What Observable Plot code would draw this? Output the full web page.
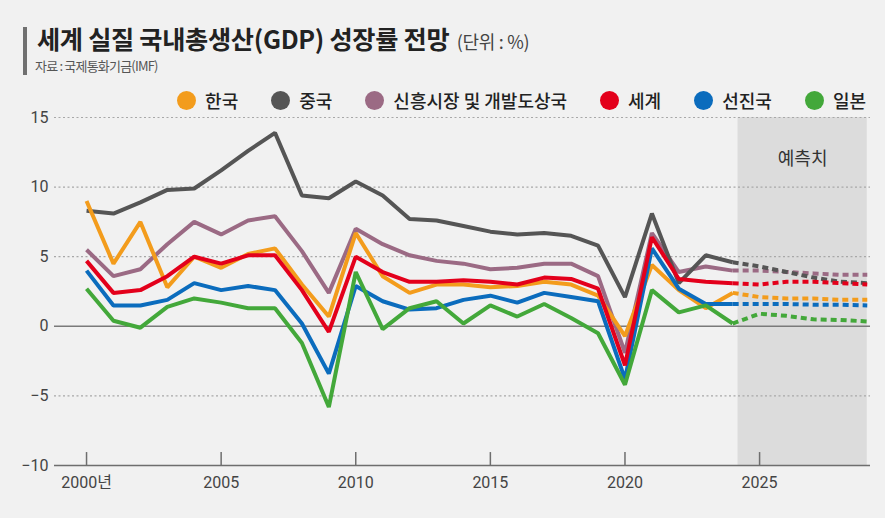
<!DOCTYPE html>
<html>
<head>
<meta charset="utf-8">
<script src="https://cdn.jsdelivr.net/npm/d3@7"></script>
<script src="https://cdn.jsdelivr.net/npm/@observablehq/plot@0.6"></script>
<style>
  body { margin: 0; background: #f1f1f1; font-family: "Noto Sans CJK KR", "Noto Sans", sans-serif; }
  #wrap { position: relative; width: 885px; height: 518px; overflow: hidden; background: #f1f1f1; }
  #bar { position: absolute; left: 23px; top: 27px; width: 4px; height: 48px; background: #707070; }
  #title { position: absolute; left: 37px; top: 21px; font-size: 25.2px; font-weight: 700; color: #222; white-space: nowrap; line-height: 34px; letter-spacing: -0.3px; }
  #title span { font-size: 18px; font-weight: 400; color: #444; letter-spacing: -0.3px; margin-left: 2px; }
  #sub { position: absolute; left: 35px; top: 57px; font-size: 13px; color: #555; line-height: 18px; letter-spacing: -0.8px; white-space: nowrap; }
  #legend { position: absolute; right: 19px; top: 88px; display: flex; align-items: center; height: 24px; font-size: 18px; color: #222; font-weight: 500; white-space: nowrap; }
  .item { display: flex; align-items: center; margin-left: 33px; }
  .dot { width: 19px; height: 19px; border-radius: 50%; margin-right: 9px; }
  #chart { position: absolute; left: 0; top: 90px; }
</style>
</head>
<body>
<div id="wrap">
  <div id="bar"></div>
  <div id="title">세계 실질 국내총생산(GDP) 성장률 전망 <span>(단위 : %)</span></div>
  <div id="sub">자료 : 국제통화기금(IMF)</div>
  <div id="legend"></div>
  <div id="chart"></div>
</div>
<script>
// ---- data ----
const years = [2000,2001,2002,2003,2004,2005,2006,2007,2008,2009,2010,2011,2012,2013,2014,2015,2016,2017,2018,2019,2020,2021,2022,2023,2024,2025,2026,2027,2028,2029];
const lastActualYear = 2024;
const legendOrder = ["한국", "중국", "신흥시장 및 개발도상국", "세계", "선진국", "일본"];
const seriesColors = ["#f39c1c", "#555555", "#9b6a84", "#e3001b", "#0b6cbd", "#43a83a"];

const korea    = [9.0, 4.5, 7.5, 2.8, 5.0, 4.2, 5.2, 5.6, 3.0, 0.7, 6.7, 3.6, 2.4, 3.0, 3.0, 2.8, 2.9, 3.2, 3.0, 2.2, -0.7, 4.4, 2.6, 1.3, 2.4, 2.1, 2.0, 2.0, 1.9, 1.9];
const china    = [8.3, 8.1, 8.9, 9.8, 9.9, 11.2, 12.6, 13.9, 9.4, 9.2, 10.4, 9.4, 7.7, 7.6, 7.2, 6.8, 6.6, 6.7, 6.5, 5.8, 2.1, 8.1, 3.1, 5.1, 4.6, 4.3, 3.9, 3.5, 3.2, 3.1];
const emerging = [5.5, 3.6, 4.1, 5.9, 7.5, 6.6, 7.6, 7.9, 5.4, 2.4, 7.0, 5.9, 5.1, 4.7, 4.5, 4.1, 4.2, 4.5, 4.5, 3.6, -1.9, 6.7, 3.9, 4.3, 4.0, 4.0, 3.9, 3.8, 3.7, 3.7];
const world    = [4.7, 2.4, 2.6, 3.6, 5.0, 4.5, 5.1, 5.1, 2.6, -0.4, 5.0, 3.9, 3.2, 3.2, 3.3, 3.2, 3.0, 3.5, 3.4, 2.7, -2.8, 6.4, 3.4, 3.2, 3.1, 3.0, 3.2, 3.2, 3.1, 3.0];
const advanced = [4.0, 1.5, 1.5, 1.9, 3.1, 2.6, 2.9, 2.6, 0.2, -3.4, 2.9, 1.8, 1.2, 1.3, 1.9, 2.2, 1.7, 2.4, 2.1, 1.8, -3.8, 5.6, 2.7, 1.6, 1.6, 1.6, 1.6, 1.55, 1.55, 1.5];
const japan    = [2.7, 0.4, -0.1, 1.4, 2.0, 1.7, 1.3, 1.3, -1.2, -5.8, 3.9, -0.2, 1.3, 1.8, 0.2, 1.5, 0.7, 1.6, 0.6, -0.5, -4.2, 2.6, 1.0, 1.5, 0.2, 0.9, 0.75, 0.5, 0.45, 0.35];

const xTicks = [2000, 2005, 2010, 2015, 2020, 2025];
const xTickLabels = ["2000년", "2005", "2010", "2015", "2020", "2025"];
const yTicks = [15, 10, 5, 0, -5, -10];
const yDotted = [15, 10, 5, -5];
const forecastBand = [2024.2, 2029];
const forecastLabel = ["예측치"];
const forecastLabelPos = [2026.6, 12];

// draw order (bottom -> top)
const drawOrder = [
  ["신흥시장 및 개발도상국", emerging],
  ["중국", china],
  ["한국", korea],
  ["선진국", advanced],
  ["세계", world],
  ["일본", japan]
];

const rows = [];
for (const [name, vals] of drawOrder) vals.forEach((v, i) => rows.push({name, year: years[i], value: v}));
const actual = rows.filter(d => d.year <= lastActualYear);
const forecast = rows.filter(d => d.year >= lastActualYear);

// legend
const leg = document.getElementById("legend");
legendOrder.forEach((n, i) => {
  const it = document.createElement("div");
  it.className = "item";
  it.innerHTML = `<span class="dot" style="background:${seriesColors[i]}"></span><span>${n}</span>`;
  leg.appendChild(it);
});

const chart = Plot.plot({
  width: 885,
  height: 428,
  marginLeft: 54,
  marginRight: 15,
  marginTop: 27,
  marginBottom: 53,
  style: { background: "transparent", fontFamily: "Roboto, 'Noto Sans CJK KR', sans-serif" },
  x: { domain: [1998.81, 2029.12] },
  y: { domain: [-10, 15] },
  color: { domain: legendOrder, range: seriesColors },
  marks: [
    Plot.rect([forecastBand], { x1: d => d[0], x2: d => d[1], y1: -10, y2: 15, fill: "#dcdcdc" }),
    Plot.ruleY(yDotted, { stroke: "#a8a8a8", strokeWidth: 1.2, strokeDasharray: "2,2.5" }),
    Plot.ruleY([0], { stroke: "#7a7a7a", strokeWidth: 1.5 }),
    Plot.ruleY([-10], { stroke: "#6e6e6e", strokeWidth: 1.5 }),
    Plot.ruleX(xTicks, { y1: -10, y2: -9.07, stroke: "#6e6e6e", strokeWidth: 1.5 }),
    Plot.line(actual, { x: "year", y: "value", z: "name", stroke: "name", strokeWidth: 4, strokeLinejoin: "miter", strokeLinecap: "butt" }),
    Plot.line(forecast, { x: "year", y: "value", z: "name", stroke: "name", strokeWidth: 4, strokeDasharray: "6,4", strokeLinecap: "butt" }),
    Plot.text(forecastLabel, { x: () => forecastLabelPos[0], y: () => forecastLabelPos[1], text: d => d, fontSize: 18, fill: "#333", fontFamily: "Noto Sans CJK KR" }),
    Plot.axisY(yTicks, { label: null, tickSize: 0, tickPadding: 6, fontSize: 16, color: "#444" }),
    Plot.axisX(xTicks, { label: null, tickSize: 0, tickPadding: 11, fontSize: 16, color: "#444", tickFormat: d => xTickLabels[xTicks.indexOf(d)] })
  ]
});
document.getElementById("chart").appendChild(chart);
</script>
</body>
</html>
